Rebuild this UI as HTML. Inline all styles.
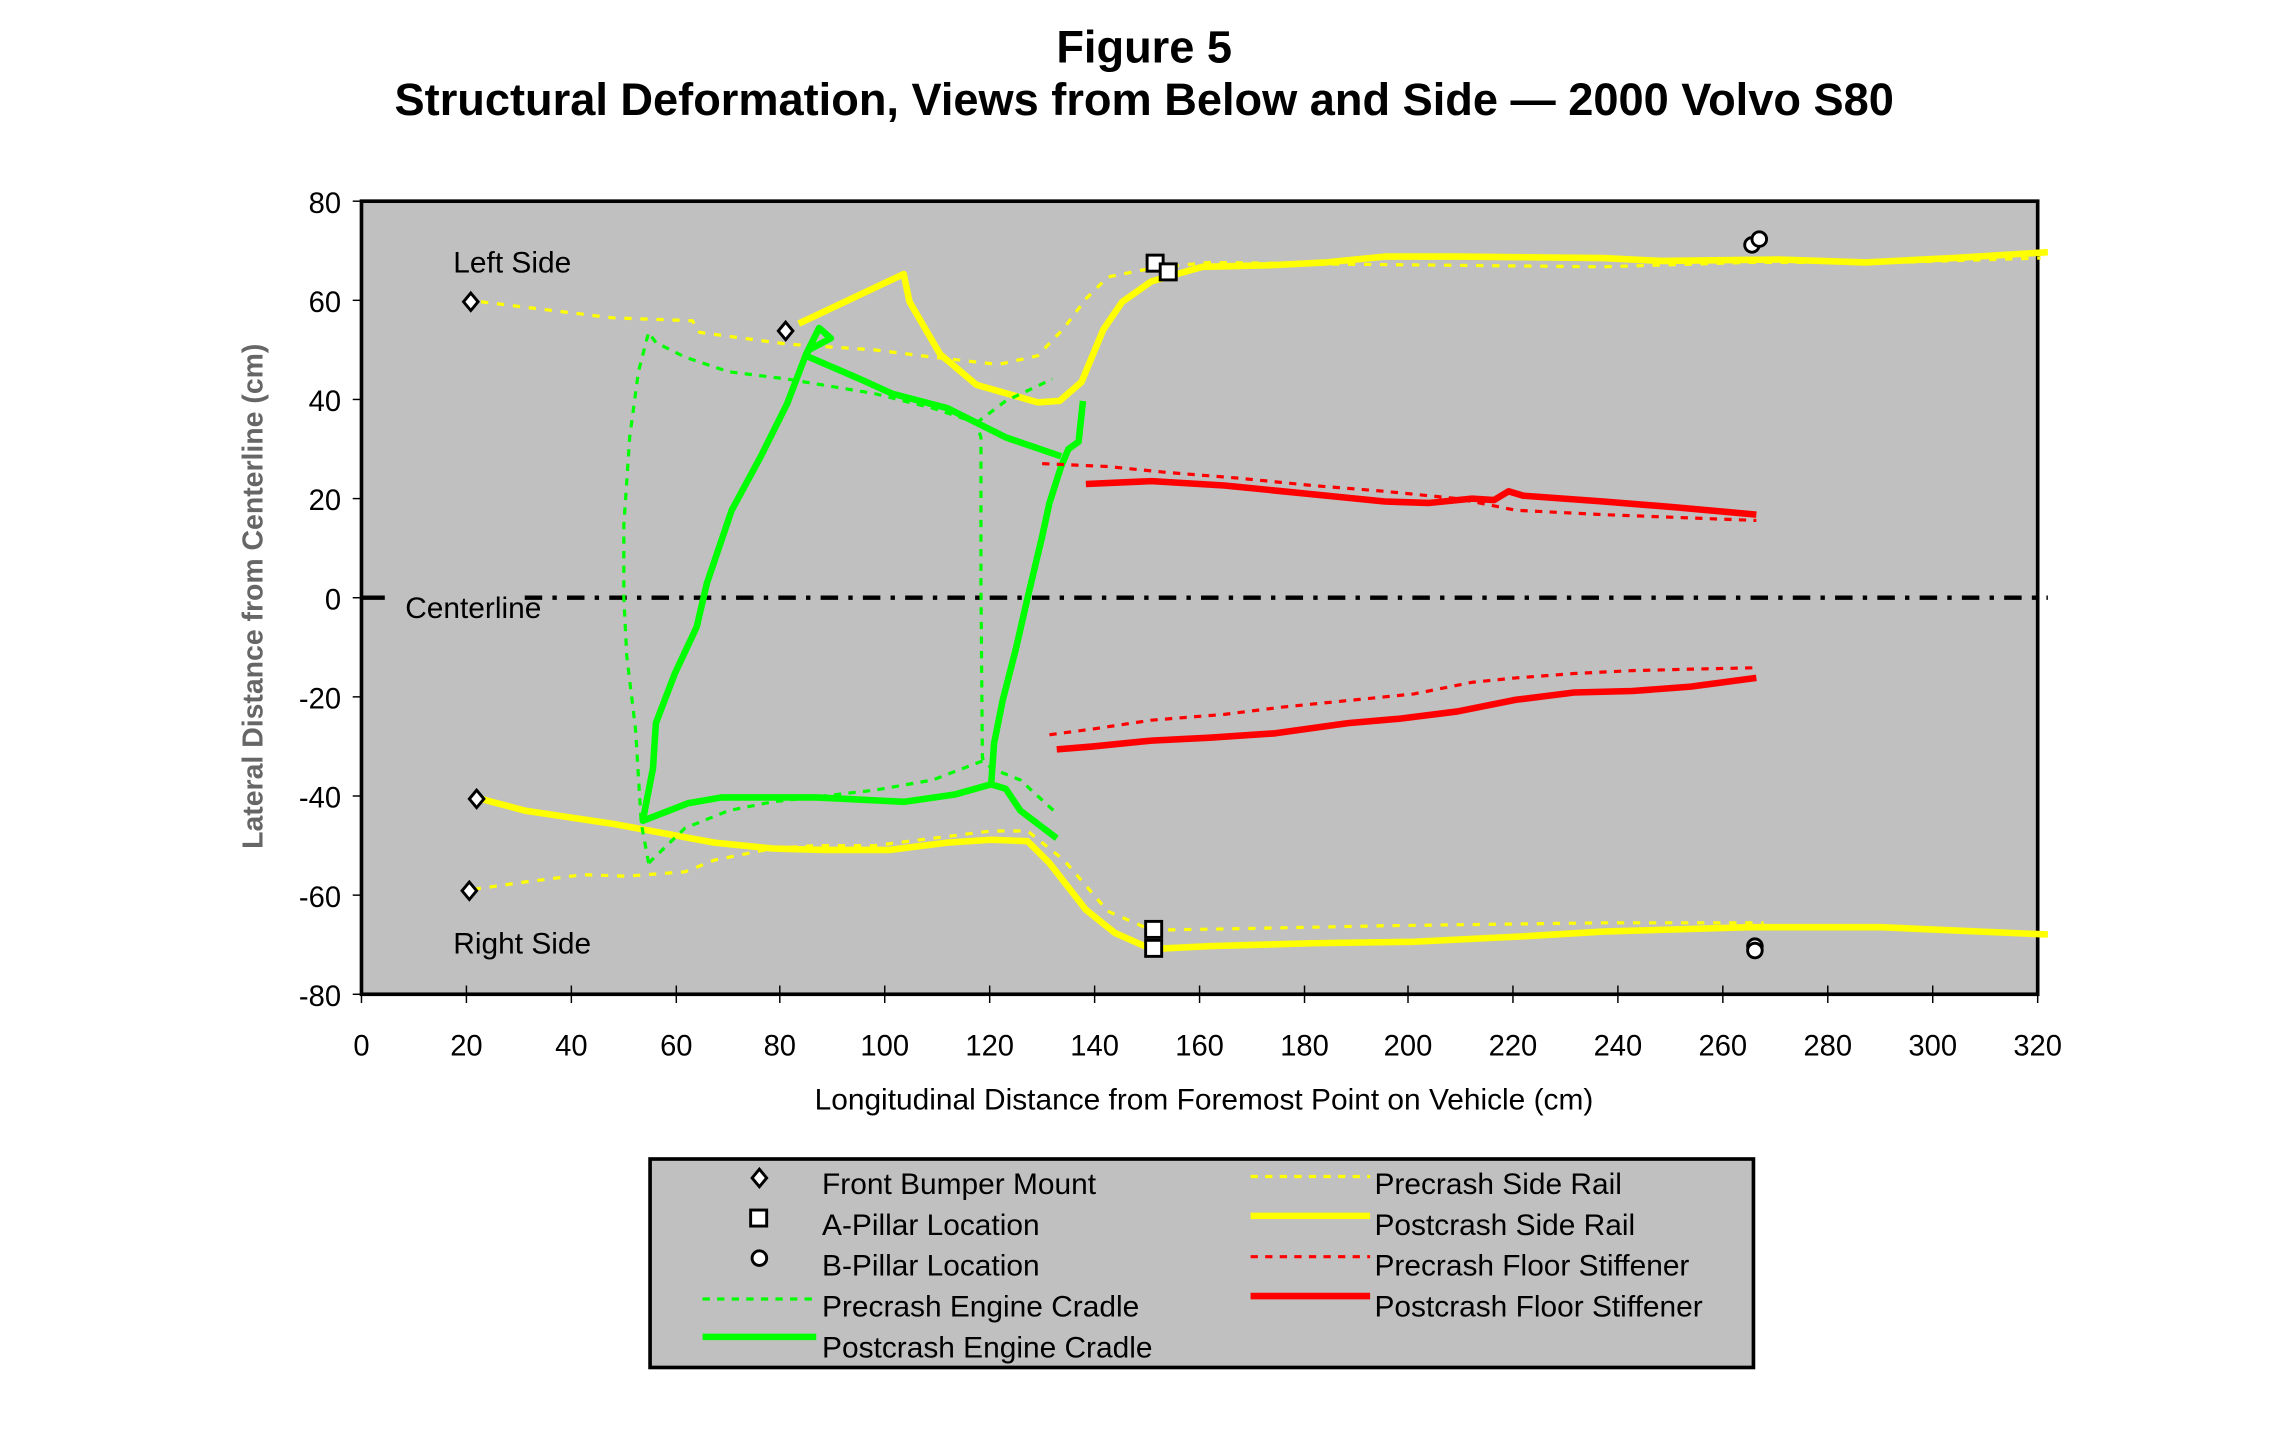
<!DOCTYPE html>
<html><head><meta charset="utf-8"><style>
html,body{margin:0;padding:0;background:#fff;}
svg{display:block;}
text{font-family:"Liberation Sans",Arial,sans-serif;}
</style></head><body>
<svg width="2284" height="1436" viewBox="0 0 1567 985" preserveAspectRatio="none" xmlns="http://www.w3.org/2000/svg">
<rect x="0" y="0" width="1567" height="985" fill="#fff"/>
<text x="785" y="43" font-size="31" font-weight="bold" text-anchor="middle">Figure 5</text>
<text x="785" y="79" font-size="31" font-weight="bold" text-anchor="middle">Structural Deformation, Views from Below and Side — 2000 Volvo S80</text>

<rect x="248" y="138" width="1150" height="544" fill="#c0c0c0" stroke="#000" stroke-width="2.5"/>
<g stroke="#000" stroke-width="1">
<line x1="242" y1="138" x2="248" y2="138"/><line x1="242" y1="206" x2="248" y2="206"/><line x1="242" y1="274" x2="248" y2="274"/><line x1="242" y1="342" x2="248" y2="342"/><line x1="242" y1="410" x2="248" y2="410"/><line x1="242" y1="478" x2="248" y2="478"/><line x1="242" y1="546" x2="248" y2="546"/><line x1="242" y1="614" x2="248" y2="614"/><line x1="242" y1="682" x2="248" y2="682"/>
<line x1="248" y1="676" x2="248" y2="688"/><line x1="320" y1="676" x2="320" y2="688"/><line x1="392" y1="676" x2="392" y2="688"/><line x1="464" y1="676" x2="464" y2="688"/><line x1="535" y1="676" x2="535" y2="688"/><line x1="607" y1="676" x2="607" y2="688"/><line x1="679" y1="676" x2="679" y2="688"/><line x1="751" y1="676" x2="751" y2="688"/><line x1="823" y1="676" x2="823" y2="688"/><line x1="895" y1="676" x2="895" y2="688"/><line x1="966" y1="676" x2="966" y2="688"/><line x1="1038" y1="676" x2="1038" y2="688"/><line x1="1110" y1="676" x2="1110" y2="688"/><line x1="1182" y1="676" x2="1182" y2="688"/><line x1="1254" y1="676" x2="1254" y2="688"/><line x1="1326" y1="676" x2="1326" y2="688"/><line x1="1398" y1="676" x2="1398" y2="688"/>
</g>
<g font-size="20" text-anchor="end">
<text x="234" y="146">80</text><text x="234" y="214">60</text><text x="234" y="282">40</text><text x="234" y="350">20</text><text x="234" y="418">0</text><text x="234" y="486">-20</text><text x="234" y="554">-40</text><text x="234" y="622">-60</text><text x="234" y="690">-80</text>
</g>
<g font-size="20" text-anchor="middle">
<text x="248" y="724">0</text><text x="320" y="724">20</text><text x="392" y="724">40</text><text x="464" y="724">60</text><text x="535" y="724">80</text><text x="607" y="724">100</text><text x="679" y="724">120</text><text x="751" y="724">140</text><text x="823" y="724">160</text><text x="895" y="724">180</text><text x="966" y="724">200</text><text x="1038" y="724">220</text><text x="1110" y="724">240</text><text x="1182" y="724">260</text><text x="1254" y="724">280</text><text x="1326" y="724">300</text><text x="1398" y="724">320</text>
</g>
<text x="826" y="761" font-size="20.5" text-anchor="middle">Longitudinal Distance from Foremost Point on Vehicle (cm)</text>
<text transform="translate(180,409) rotate(-90)" font-size="19.5" font-weight="bold" text-anchor="middle" fill="#666">Lateral Distance from Centerline (cm)</text>

<text x="311" y="187" font-size="20.5">Left Side</text>
<text x="278" y="424" font-size="20.5">Centerline</text>
<text x="311" y="654" font-size="20.5">Right Side</text>

<line x1="249" y1="410" x2="264" y2="410" stroke="#000" stroke-width="3"/>
<line x1="360" y1="410" x2="1405" y2="410" stroke="#000" stroke-width="3" stroke-dasharray="12,7,3,7"/>

<g fill="none" stroke-linejoin="round">
<polyline stroke="#ffff00" stroke-width="2.2" stroke-dasharray="5,6" points="330,207 420,218 475,220 480,228 540,236 600,240 640,245 685,250 712,244 730,225 745,205 760,190 790,184 830,180 900,181 1000,182 1100,183 1200,180 1300,180 1400,177"/>
<polyline stroke="#ffff00" stroke-width="2.2" stroke-dasharray="5,6" points="325,610 360,605 400,600 430,601 470,598 490,590 530,582 560,580 600,580 640,575 680,570 705,570 730,590 760,625 790,638 850,637 950,635 1100,633 1210,633"/>
<polyline stroke="#ffff00" stroke-width="4.5" points="548,222 620,188 624,207 645,243 670,264 712,276 727,275 742,262 757,226 770,207 790,193 825,183 870,182 910,180 950,176 1000,176 1100,177 1140,179 1220,178 1280,180 1340,177 1405,173"/>
<polyline stroke="#ffff00" stroke-width="4.5" points="330,548 360,556 420,565 490,578 530,582 565,583 610,583 650,578 680,576 705,577 720,592 745,624 765,640 790,651 830,649 900,647 970,646 1050,642 1100,639 1200,636 1290,636 1405,641"/>
<polyline stroke="#00ff00" stroke-width="2.2" stroke-dasharray="5,5" points="445,592 440,565 436,500 430,450 428,410 428,360 432,300 438,255 445,228 450,235 470,245 500,255 540,260 600,270 640,280 670,290 673,300 673,400 674,520 680,527 700,535 725,558"/>
<polyline stroke="#00ff00" stroke-width="2.2" stroke-dasharray="5,5" points="670,290 690,275 722,260"/>
<polyline stroke="#00ff00" stroke-width="2.2" stroke-dasharray="5,5" points="445,592 470,568 500,556 530,550 600,542 640,535 674,522"/>
<polyline stroke="#00ff00" stroke-width="4.5" points="743,275 740,303 733,308 728,320 720,345 715,368 705,410 697,445 688,480 682,510 680,538 690,541 700,556 725,575"/>
<polyline stroke="#00ff00" stroke-width="4.5" points="680,538 655,545 620,550 560,547 495,547 472,551 441,563 448,527 450,496 463,462 478,430 485,400 502,350 522,313 540,277 553,243 562,225 570,232 555,240 553,244 590,260 612,270 650,280 690,300 728,313"/>
<polyline stroke="#ff0000" stroke-width="2.2" stroke-dasharray="5,5" points="715,318 760,320 800,324 850,328 900,333 950,337 1000,342 1040,350 1100,353 1205,357"/>
<polyline stroke="#ff0000" stroke-width="2.2" stroke-dasharray="5,5" points="720,504 750,500 790,494 840,490 880,485 920,481 970,476 1010,468 1040,465 1080,462 1120,460 1160,459 1206,458"/>
<polyline stroke="#ff0000" stroke-width="4.5" points="745,332 790,330 840,333 880,337 920,341 950,344 980,345 1010,342 1025,343 1035,337 1045,340 1100,344 1150,348 1205,353"/>
<polyline stroke="#ff0000" stroke-width="4.5" points="725,514 750,512 790,508 830,506 875,503 925,496 960,493 1000,488 1040,480 1080,475 1120,474 1160,471 1205,465"/>
</g>
<g fill="#fff" stroke="#000" stroke-width="2">
<path d="M323,201 L328,207 L323,213 L318,207 Z"/>
<path d="M539,221 L544,227 L539,233 L534,227 Z"/>
<path d="M327,542 L332,548 L327,554 L322,548 Z"/>
<path d="M322,605 L327,611 L322,617 L317,611 Z"/>
<rect x="787" y="175" width="11" height="11"/>
<rect x="796" y="181" width="11" height="11"/>
<rect x="786" y="632" width="11" height="11"/>
<rect x="786" y="645" width="11" height="11"/>
<circle cx="1202" cy="168" r="5"/>
<circle cx="1207" cy="164" r="5"/>
<circle cx="1204" cy="649" r="5"/>
<circle cx="1204" cy="652" r="5"/>
</g>

<rect x="446" y="795" width="757" height="143" fill="#c0c0c0" stroke="#000" stroke-width="2.5"/>
<g fill="#fff" stroke="#000" stroke-width="2">
<path d="M521,802 L526,808 L521,814 L516,808 Z"/>
<rect x="515" y="830" width="11" height="11"/>
<circle cx="521" cy="863" r="5"/>
</g>
<g fill="none">
<line x1="482" y1="891" x2="560" y2="891" stroke="#00ff00" stroke-width="2.2" stroke-dasharray="5,5"/>
<line x1="482" y1="917" x2="560" y2="917" stroke="#00ff00" stroke-width="4.5"/>
<line x1="858" y1="807" x2="940" y2="807" stroke="#ffff00" stroke-width="2.2" stroke-dasharray="5,5"/>
<line x1="858" y1="834" x2="940" y2="834" stroke="#ffff00" stroke-width="4.5"/>
<line x1="858" y1="862" x2="940" y2="862" stroke="#ff0000" stroke-width="2.2" stroke-dasharray="5,5"/>
<line x1="858" y1="889" x2="940" y2="889" stroke="#ff0000" stroke-width="4.5"/>
</g>
<g font-size="20.5">
<text x="564" y="819">Front Bumper Mount</text>
<text x="564" y="847">A-Pillar Location</text>
<text x="564" y="875">B-Pillar Location</text>
<text x="564" y="903">Precrash Engine Cradle</text>
<text x="564" y="931">Postcrash Engine Cradle</text>
<text x="943" y="819">Precrash Side Rail</text>
<text x="943" y="847">Postcrash Side Rail</text>
<text x="943" y="875">Precrash Floor Stiffener</text>
<text x="943" y="903">Postcrash Floor Stiffener</text>
</g>
</svg>
</body></html>
